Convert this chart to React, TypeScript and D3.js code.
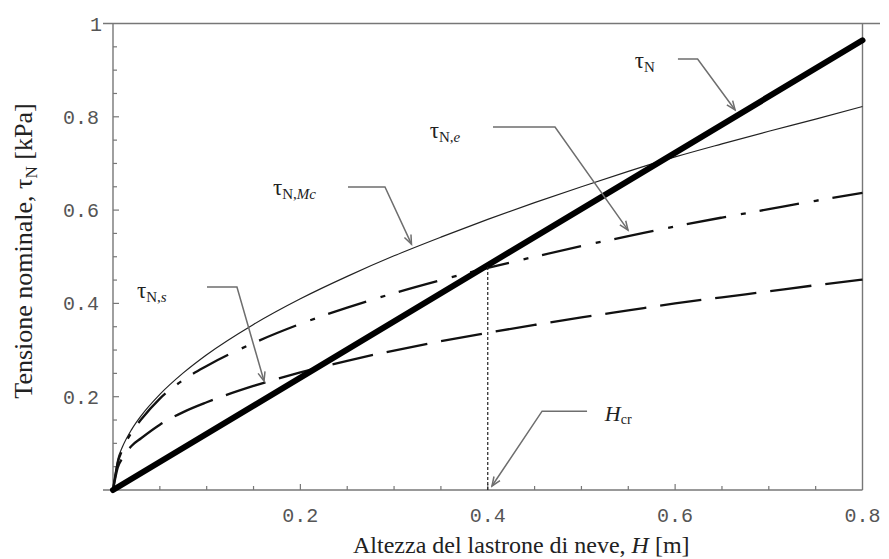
import React from 'react';
import * as d3 from 'd3';

// ---- data ----
const H = [0, 0.005, 0.01, 0.02, 0.03, 0.05, 0.075, 0.1, 0.15, 0.2, 0.25, 0.3, 0.35, 0.4, 0.45, 0.5, 0.55, 0.6, 0.65, 0.7, 0.75, 0.8];
const tauNMc = [0, 0.065, 0.092, 0.13, 0.159, 0.205, 0.251, 0.29, 0.355, 0.41, 0.458, 0.502, 0.542, 0.58, 0.616, 0.65, 0.683, 0.714, 0.742, 0.769, 0.795, 0.822];
const tauNe = [0, 0.058, 0.086, 0.124, 0.151, 0.196, 0.236, 0.266, 0.315, 0.356, 0.391, 0.422, 0.45, 0.476, 0.5, 0.523, 0.544, 0.565, 0.584, 0.602, 0.62, 0.637];
const tauNs = [0, 0.048, 0.068, 0.095, 0.111, 0.14, 0.167, 0.188, 0.223, 0.252, 0.277, 0.299, 0.319, 0.337, 0.354, 0.37, 0.385, 0.4, 0.413, 0.426, 0.439, 0.451];
const tauNH = [0, 0.8];
const tauN = [0, 0.964];
const Hcr = 0.4;
const xTickLabels = [0.2, 0.4, 0.6, 0.8];
const yTickLabels = [0.2, 0.4, 0.6, 0.8, 1];

const W = 889;
const HT = 559;
const x = d3.scaleLinear().domain([0, 0.8]).range([113, 862.5]);
const y = d3.scaleLinear().domain([0, 1]).range([490, 23.5]);

const serif = '"Liberation Serif", "Times New Roman", serif';
const mono = '"Liberation Mono", "Courier New", monospace';
const axisCol = '#777';
const leaderCol = '#6e6e6e';

type Pt = [number, number];
function curvePath(xs: number[], ys: number[], reverse = false): string {
  let pts: Pt[] = xs.map((h, i) => [x(h), y(ys[i])] as Pt);
  if (reverse) pts = pts.slice().reverse();
  const gen = d3.line<Pt>().x(d => d[0]).y(d => d[1]).curve(d3.curveMonotoneX);
  return gen(pts) || '';
}

// annotation geometry in data units: label anchor, leader start, elbow, tip
const annots = [
  { key: 'N', label: [0.557, 0.9046], pts: [[0.603, 0.924], [0.624, 0.924], [0.664, 0.8146]] },
  { key: 'e', label: [0.338, 0.755], pts: [[0.4056, 0.778], [0.4718, 0.778], [0.5497, 0.557]] },
  { key: 'Mc', label: [0.1708, 0.633], pts: [[0.2508, 0.6495], [0.2903, 0.6495], [0.3186, 0.527]] },
  { key: 's', label: [0.0256, 0.412], pts: [[0.1003, 0.435], [0.1323, 0.435], [0.1612, 0.2336]] },
  { key: 'Hcr', label: [0.525, 0.148], pts: [[0.506, 0.169], [0.458, 0.169], [0.4045, 0.0086]] },
];

function Label({ k, px, py }: { k: string; px: number; py: number }) {
  if (k === 'Hcr') {
    return (
      <text x={px} y={py} fontFamily={serif} fill="#222">
        <tspan fontSize={22} fontStyle="italic">H</tspan>
        <tspan fontSize={14} dy={3}>cr</tspan>
      </text>
    );
  }
  return (
    <text x={px} y={py} fontFamily={serif} fill="#222">
      <tspan fontSize={23}>τ</tspan>
      <tspan fontSize={15} dy={4}>{k === 'N' ? 'N' : 'N,'}</tspan>
      {k !== 'N' && <tspan fontSize={15} fontStyle="italic">{k}</tspan>}
    </text>
  );
}

export default function App() {
  const minorX = d3.range(1, 16).map(i => i * 0.05);
  const minorY = d3.range(1, 20).map(i => i * 0.05);
  const isMajor = (v: number) => Math.abs(v / 0.2 - Math.round(v / 0.2)) < 1e-6;

  return (
    <svg width={W} height={HT} style={{ position: 'absolute', left: 0, top: 0, background: '#fff' }}>
      <defs>
        <marker id="arr" markerUnits="userSpaceOnUse" markerWidth={14} markerHeight={12}
          viewBox="-12 -6 14 12" refX={0} refY={0} orient="auto">
          <path d="M-9,-3.6 L0,0 L-9,3.6" fill="none" stroke={leaderCol} strokeWidth={1.5} />
        </marker>
      </defs>

      {/* frame */}
      <line x1={103} x2={880} y1={y(1)} y2={y(1)} stroke={axisCol} strokeWidth={1.4} />
      <line x1={103} x2={x(0.8)} y1={y(0)} y2={y(0)} stroke={axisCol} strokeWidth={1.4} />
      <line x1={x(0)} x2={x(0)} y1={y(0)} y2={y(1)} stroke={axisCol} strokeWidth={1.4} />
      <line x1={x(0.8)} x2={x(0.8)} y1={y(0)} y2={y(1)} stroke={axisCol} strokeWidth={1.4} />

      {/* ticks */}
      {minorX.map(v => (
        <line key={'tx' + v} x1={x(v)} x2={x(v)} y1={y(0)} y2={y(0) - (isMajor(v) ? 6 : 4)} stroke={axisCol} strokeWidth={1.2} />
      ))}
      {minorY.map(v => (
        <line key={'ty' + v} x1={x(0)} x2={x(0) + (isMajor(v) ? 6 : 4)} y1={y(v)} y2={y(v)} stroke={axisCol} strokeWidth={1.2} />
      ))}

      {/* tick labels */}
      {xTickLabels.map(v => (
        <text key={'xl' + v} x={x(v)} y={522} textAnchor="middle" fontFamily={mono} fontSize={20} fill="#555">
          {d3.format('.1f')(v)}
        </text>
      ))}
      {yTickLabels.map(v => (
        <text key={'yl' + v} x={v === 1 ? 102 : 99} y={y(v)} dy="0.35em" textAnchor="end" fontFamily={mono} fontSize={20} fill="#555">
          {v === 1 ? '1' : d3.format('.1f')(v)}
        </text>
      ))}

      {/* axis titles */}
      <text x={353} y={553} textAnchor="start" fontFamily={serif} fontSize={24} fill="#222">
        Altezza del lastrone di neve, <tspan fontStyle="italic">H</tspan> [m]
      </text>
      <text transform={`translate(32, 251) rotate(-90)`} textAnchor="middle" fontFamily={serif} fontSize={26} fill="#222">
        Tensione nominale, τ<tspan fontSize={17} dy={5}>N</tspan><tspan dy={-5}> [kPa]</tspan>
      </text>

      {/* curves */}
      <path d={curvePath(H, tauNMc)} fill="none" stroke="#222" strokeWidth={1.2} />
      <path d={curvePath(H, tauNe, true)} fill="none" stroke="#111" strokeWidth={2.3}
        strokeDasharray="40 14 5 15" strokeDashoffset={9.5} />
      <path d={curvePath(H, tauNs, true)} fill="none" stroke="#111" strokeWidth={2.3}
        strokeDasharray="41.5 14" strokeDashoffset={4} />
      <path d={curvePath(tauNH, tauN)} fill="none" stroke="#000" strokeWidth={6} strokeLinecap="round" />

      {/* H_cr dotted line */}
      <line x1={x(Hcr)} x2={x(Hcr)} y1={y(0)} y2={y(Hcr * tauN[1] / tauNH[1])} stroke="#222" strokeWidth={1.2} strokeDasharray="3 2" />

      {/* annotations */}
      {annots.map(a => {
        const p = a.pts.map(q => [x(q[0]), y(q[1])] as Pt);
        const d = d3.line<Pt>()(p) || '';
        return (
          <g key={a.key}>
            <path d={d} fill="none" stroke={leaderCol} strokeWidth={1.5} markerEnd="url(#arr)" />
            <Label k={a.key} px={x(a.label[0])} py={y(a.label[1])} />
          </g>
        );
      })}
    </svg>
  );
}
